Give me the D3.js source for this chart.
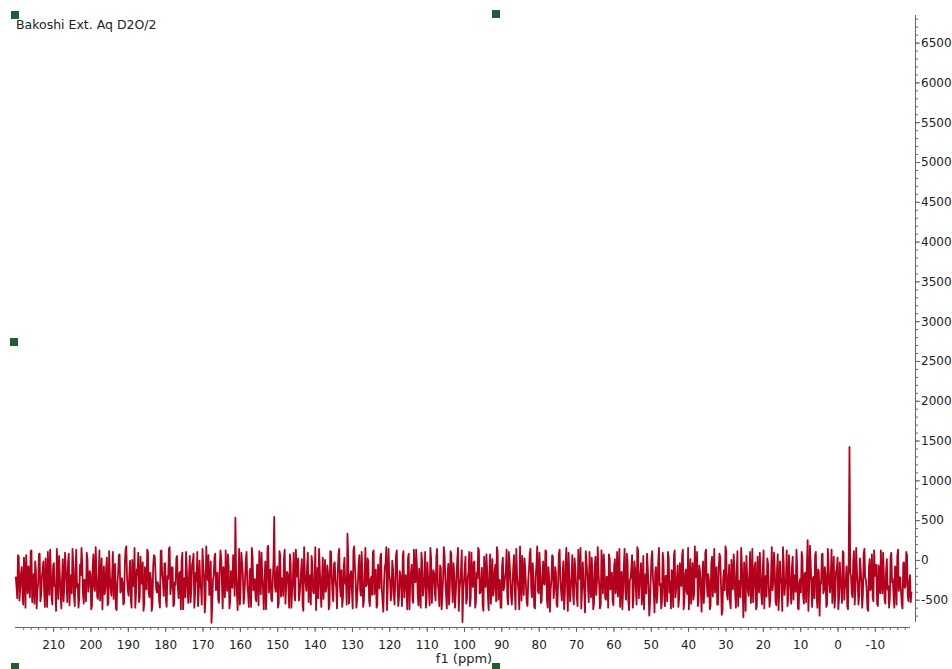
<!DOCTYPE html>
<html><head><meta charset="utf-8">
<script src="https://cdn.jsdelivr.net/npm/d3@7"></script>
<style>html,body{margin:0;padding:0;background:#fff;}svg{display:block;}</style>
</head><body>
<svg id="chart" width="952" height="669"></svg>
<script>
const title = "Bakoshi Ext. Aq D2O/2";
const xLabel = "f1 (ppm)";
const ppmStart = 220;
const ppmStep = 0.4;
const xTicks = [210,200,190,180,170,160,150,140,130,120,110,100,90,80,70,60,50,40,30,20,10,0,-10];
const yTicks = [-500,0,500,1000,1500,2000,2500,3000,3500,4000,4500,5000,5500,6000,6500];
// intensities at ppm = 220 - i*0.4
const intensityA = [
-210,-480,40,-350,-90,-560,-150,60,-420,-260,110,-530,-180,-20,-610,-300,80,-440,-120,-380,
20,-590,-240,130,-470,-70,-330,-640,-160,50,-400,-220,-520,90,-280,-30,-570,-190,140,-460,
-110,-350,-600,-60,150,-430,-250,-520,10,-310,-170,-580,70,-390,-140,-490,120,-270,-620,-80,
-360,30,-540,-200,-450,100,-130,-610,-290,60,-410,-230,-560,-50,170,-380,-180,-500,0,-330,
-600,-120,90,-470,-260,-30,-550,-210,130,-420,-160,-640,-70,40,-370,-280,-520,110,-190,-450,
-40,-590,-240,160,-340,-100,-560,-310,50,-480,-150,-20,-620,-230,100,-400,-170,-530,-60,80,
-440,-270,-580,-10,-360,140,-200,-500,-120,60,-430,-790,-250,30,-380,-160,-540,120,-300,-90,
-470,-220,70,-610,-140,-350,-30,530,-410,-260,-560,90,-180,-460,10,-320,-590,-110,150,-380,
-240,-520,-60,110,-430,-200,-620,-20,-340,180,-150,-490,-270,540,-400,-80,-550,60,-230,-450,
130,-310,-170,-600,-40,-360,90,-510,-210,20,-440,-120,-580,160,-290,-70,-530,-190,50,-400,
-260,-630,-100,140,-370,-220,-490,0,-320,-160,-570,100,-420,-50,-260,-610,70,-340,-130,-480,
30,-230,330,-550,-180,-390,120,-80,-600,-280,60,-450,-150,-520,150,-310,-20,-580,-210,90,
-430,-120,-560,-240,40,-370,-650,-90,160,-330,-200,-510,-10,-410,-270,120,-580,-140,-360,50,
-470,-190,-620,80,-300,-60,-540,-250,130,-420,-110,-600,-30,-350,100,-480,-220,-570,20,-280,
-160,-510,140,-390,-70,-620,-240,60,-440,-180,-560,110,-320,-40,-600,-210,150,-370,-130,-780,
-260,40,-490,-150,-580,90,-340,-20,-530,-230,120,-410,-100,-640,-290,70,-460,-170,-550,10,
-380,-60,160,-500,-250,-600,30,-330,-140,-470,100,-210,-560,-80,-390,140,-290,-620,-180,50,
-440,-110,-540,-260,80,-360,-40,-590,-200,170,-420,-150,-510,-20,-310,110,-600,-230,-370,60,
-480,-90,-560,-270,130,-400,-170,-620,-50,-330,90,-520,-210,-440,20,-300,-580,-120,150,-390,
-250,-660,-30,-350,100,-470,-190,-550,40,-280,-140,-610,120,-420,-80,-500,-230,70,-370,-160,
-570,10,-310,-460,140,-200,-620,-60,-390,80,-530,-250,-110,-600,-20,-340,160,-480,-180,-560,
50,-290,-420,-100,-700,-230,110,-380,-150,-540,-10,-320,-610,90,-450,-200,-520,30,-270,-130,
-590,120,-360,-70,-480,-240,60,-620,-180,-400,150,-300,-550,-40,-430,-220,100,-510,-150,-650,
-20,-340,130,-460,-260,-580,40,-190,-410,-90,-560,80,-310,-640,-130,170,-440,-230,-530,0,
-370,-120,-600,110,-280,-470,-60,-720,-210,50,-390,-160,-540,140,-330,-30,-580,-250,90,-450,
-100,-610,-200,20,-360,-500,160,-270,-140,-570,70,-420,-230,-640,-50,-310,120,-480,-180,-550,
40,-290,-400,-80,-620,-240,100,-460,-170,-530,250,-350,-10,-590,-210,60,-440,-120,-700,-300,
80,-380,-190,-560,-50,-410,130,-260,-600,-140,30,-490,-230,-540,90,-320,-80,-620,1420,-200,
-470,110,-340,-150,-560,20,-280,-430,140,-250,-610,-100,-380,70,-520,-200,-60,-580,-300,120,
-420,-170,-550,10,-330,-480,90,-240,-600,-130,50,-390,-220,-560,-40,-350,100,-460,-280,-530
];
// intensities at ppm = 219.8 - i*0.4
const intensityB = [
-330,60,-510,-170,-410,30,-600,-240,-80,-470,120,-290,-550,-130,-380,70,-520,-210,-20,-590,
-260,100,-440,-150,-560,-40,-320,140,-490,-200,-610,10,-350,-110,-530,80,-270,-420,-60,-580,
130,-300,-480,-190,-30,-550,-250,90,-400,-140,-620,-70,-340,160,-460,-220,-510,20,-280,-430,
-100,-570,110,-360,-210,-490,-50,-630,-170,70,-390,-280,-540,130,-230,-450,-10,-600,-310,150,
-420,-180,-530,40,-300,-640,-90,-370,100,-470,-240,-560,60,-150,-410,-320,-600,120,-260,-50,
-510,-200,140,-430,-90,-580,-280,30,-350,-170,-620,90,-240,-470,-130,-540,50,-380,-20,-600,
-160,100,-400,-310,-560,-80,-660,170,-250,-440,-20,-570,-190,80,-360,-500,-120,30,-610,-230,
120,-390,-90,-520,-280,60,-450,-170,-630,140,-330,-40,-550,-230,100,-420,-150,-590,40,-300,
-480,-60,-570,-200,90,-370,-260,-620,150,-410,-120,-520,-30,-340,-190,-600,110,-460,-250,20,
-550,-150,-370,70,-600,-230,-440,130,-100,-510,-290,10,-640,-180,-390,90,-270,-560,-60,-420,
160,-330,-480,-120,-590,30,-250,-400,-70,-620,110,-210,-520,-30,-350,-180,140,-460,-590,-90,
-300,-560,60,-420,-140,-610,170,-270,-490,-40,-380,100,-590,-200,-330,20,-510,-240,-440,120,
-170,-600,-60,-360,80,-520,-280,-40,-630,140,-250,-430,-110,-560,50,-320,-470,-190,-580,110,
-230,-390,20,-620,-160,-500,130,-280,-70,-570,-350,90,-450,-210,-600,-30,-380,150,-540,-130,
-420,40,-310,-580,-100,-470,160,-240,-610,-50,-360,80,-530,-190,-420,10,-640,-270,120,-380,
-90,-550,-220,100,-480,-310,-30,-600,-160,150,-420,-260,-570,40,-340,-120,-630,70,-290,-450,
-140,-520,110,-250,-600,-70,-380,-210,130,-560,-30,-450,-310,60,-620,-180,-400,170,-510,-240,
20,-330,-580,-120,140,-470,-230,-610,-60,-390,90,-540,-170,-300,120,-490,-90,-650,-260,40,
-360,-150,-590,80,-280,-510,-20,-430,150,-640,-200,-350,60,-560,-100,-470,130,-240,-610,-30,
-400,110,-170,-530,-290,30,-620,-80,-440,160,-310,-560,-130,70,-480,-210,-600,20,-350,-520,
-70,-420,100,-260,-590,-150,-380,140,-500,-30,-630,-230,60,-460,-110,-560,120,-320,-40,-400,
-620,-180,80,-350,-540,30,-240,-660,-90,-430,150,-300,-520,-20,-580,-200,100,-410,-610,-160,
60,-470,-250,-590,-40,-330,130,-520,-120,-430,-620,10,-280,-500,170,-190,-580,-70,-360,-240,
-540,90,-300,-180,-620,-40,-460,140,-250,-560,-100,30,-690,-220,-380,110,-500,-60,-610,-290,
70,-430,-140,-580,-260,150,-360,-30,-640,-190,-450,100,-320,-530,-80,-620,40,-410,-170,-560,
120,-280,-460,-50,-590,-210,-380,90,-510,-120,-630,-20,-300,160,-440,-240,-580,60,-350,-90,
-500,-190,130,-610,-280,-410,20,-550,-160,-60,-640,180,-320,-230,-480,100,-600,-140,-270,70,
-420,-90,-590,140,-310,-200,-540,40,-450,-120,-620,-30,-370,110,-500,-250,-580,60,-160,-410,
-20,-560,150,-290,-440,-110,-600,80,-230,-380,-640,10,-330,-470,120,-190,-550,-70,-420,-250,
90,-500,-140,-370,-600,40,-280,-450,-80,-560,130,-220,-410,-610,-30,-330,60,-520,-190,-400
];
const data = [];
intensityA.forEach((v,i)=>{
  data.push({ppm: ppmStart - i*ppmStep, v});
  data.push({ppm: ppmStart - ppmStep/2 - i*ppmStep, v: intensityB[i]});
});

const svg = d3.select("#chart");
const x = d3.scaleLinear().domain([220.2, -19.4]).range([15, 910]);
const y = d3.scaleLinear().domain([6847, -780]).range([15, 622]);

// spectrum
svg.append("path").datum(data)
  .attr("fill","none").attr("stroke","#b3001c").attr("stroke-width",1.8)
  .attr("stroke-linejoin","round")
  .attr("d", d3.line().x(d=>x(d.ppm)).y(d=>y(d.v)));

const font = "DejaVu Sans, Verdana, sans-serif";
const axisColor = "#666";
// x axis
const gx = svg.append("g").attr("transform","translate(0,627)");
gx.call(d3.axisBottom(x).tickValues(d3.range(218,-19,-2)).tickSize(3).tickFormat(""));
gx.selectAll(".tick line").attr("stroke",axisColor);
const gx2 = svg.append("g").attr("transform","translate(0,627)");
gx2.call(d3.axisBottom(x).tickValues(xTicks).tickSize(5).tickPadding(8).tickFormat(d=>d));
gx2.selectAll(".tick line").attr("stroke",axisColor);
gx2.selectAll(".tick text").attr("font-family",font).attr("font-size",12).attr("fill","#222");
[gx,gx2].forEach(g=>g.select(".domain").attr("stroke",axisColor).attr("d","M15,0.5H910"));

// y axis
const gy = svg.append("g").attr("transform","translate(915,0)");
gy.call(d3.axisRight(y).tickValues(d3.range(-700,6801,100)).tickSize(3).tickFormat(""));
gy.selectAll(".tick line").attr("stroke",axisColor);
const gy2 = svg.append("g").attr("transform","translate(915,0)");
gy2.call(d3.axisRight(y).tickValues(yTicks).tickSize(5).tickPadding(1).tickFormat(d=>d));
gy2.selectAll(".tick line").attr("stroke",axisColor);
gy2.selectAll(".tick text").attr("font-family",font).attr("font-size",12).attr("fill","#222");
[gy,gy2].forEach(g=>g.select(".domain").attr("stroke",axisColor).attr("d","M0.5,15V622"));

// labels
svg.append("text").attr("x",16).attr("y",29).text(title)
  .attr("font-family",font).attr("font-size",12.5).attr("fill","#222");
svg.append("text").attr("x",464).attr("y",663).attr("text-anchor","middle").text(xLabel)
  .attr("font-family",font).attr("font-size",13).attr("fill","#222");

// selection handles
const handles = [[15,15],[496,14],[14,342],[15,667],[496,667]];
svg.selectAll("rect.h").data(handles).enter().append("rect")
  .attr("x",d=>d[0]-4).attr("y",d=>d[1]-4).attr("width",8).attr("height",8).attr("fill","#1d5e34");
</script>
</body></html>
